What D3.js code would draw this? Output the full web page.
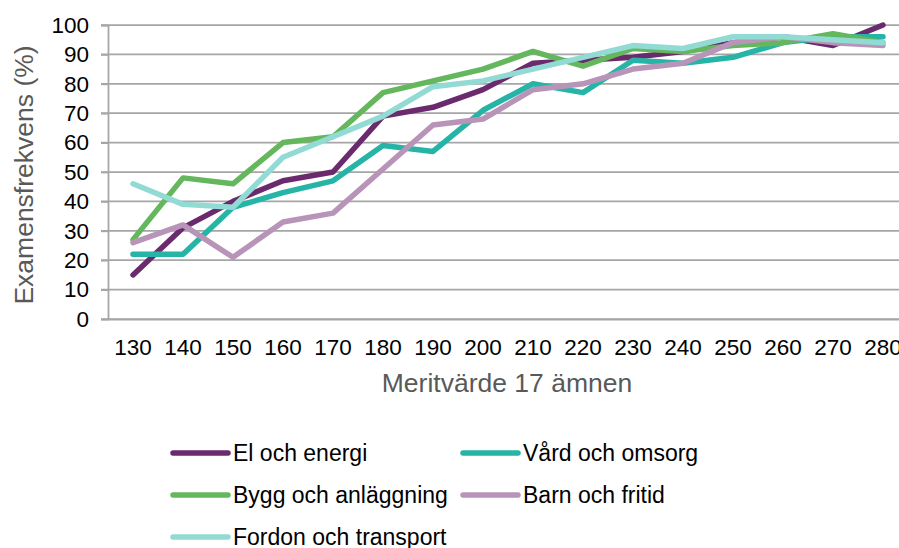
<!DOCTYPE html>
<html>
<head>
<meta charset="utf-8">
<script src="https://cdn.jsdelivr.net/npm/d3@7/dist/d3.min.js"></script>
<style>
  body { margin: 0; background: #fff; }
  svg { display: block; font-family: "Liberation Sans", Arial, sans-serif; }
</style>
</head>
<body>
<div id="chart"></div>
<script>
const categories = [130, 140, 150, 160, 170, 180, 190, 200, 210, 220, 230, 240, 250, 260, 270, 280];
const elOchEnergi   = [15, 31, 40, 47, 50, 69, 72, 78, 87, 88, 89, 91, 94, 96, 93, 100];
const vardOchOmsorg = [22, 22, 38, 43, 47, 59, 57, 71, 80, 77, 88, 87, 89, 94, 96, 96];
const byggOchAnl    = [27, 48, 46, 60, 62, 77, 81, 85, 91, 86, 92, 91, 93, 94, 97, 94];
const barnOchFritid = [26, 32, 21, 33, 36, 51, 66, 68, 78, 80, 85, 87, 94, 96, 94, 93];
const fordonOchTr   = [46, 39, 38, 55, 62, 69, 79, 81, 85, 89, 93, 92, 96, 96, 95, 94];
const seriesNames = ['El och energi', 'Vård och omsorg', 'Bygg och anläggning', 'Barn och fritid', 'Fordon och transport'];
const seriesColors = ['#6b2a6d', '#25b4a6', '#65b75e', '#b894b9', '#92dbd4'];
const yTicks = [0, 10, 20, 30, 40, 50, 60, 70, 80, 90, 100];

const series = [elOchEnergi, vardOchOmsorg, byggOchAnl, barnOchFritid, fordonOchTr];

const width = 899, height = 548;
const svg = d3.select('#chart')
  .append('svg')
  .attr('width', width)
  .attr('height', height);

const x = d3.scaleBand().domain(categories).range([108, 908]).padding(0);
const y = d3.scaleLinear().domain([0, 100]).range([319, 25]);
const cx = d => x(d) + x.bandwidth() / 2;

// gridlines
svg.append('g')
  .selectAll('line')
  .data(yTicks)
  .enter()
  .append('line')
  .attr('x1', 101)
  .attr('x2', 908)
  .attr('y1', d => y(d))
  .attr('y2', d => y(d))
  .style('stroke', '#a6a6a6')
  .style('stroke-width', 1.75);

// y axis
const yAxis = svg.append('g')
  .attr('transform', 'translate(108,0)')
  .call(d3.axisLeft(y).tickValues(yTicks).tickSize(7).tickPadding(12));
yAxis.select('.domain').style('stroke', '#a6a6a6').style('stroke-width', 1.75);
yAxis.selectAll('.tick line').style('stroke', '#a6a6a6').style('stroke-width', 1.75);
yAxis.selectAll('text')
  .style('font-size', '22.5px')
  .style('fill', '#000')
  .style('font-family', '"Liberation Sans", Arial, sans-serif');

// x axis
const xAxis = svg.append('g')
  .attr('transform', 'translate(0,319)')
  .call(d3.axisBottom(x).tickSize(0).tickPadding(20));
xAxis.select('.domain').style('stroke', '#a6a6a6').style('stroke-width', 1.75);
xAxis.selectAll('text')
  .style('font-size', '22.5px')
  .style('fill', '#000')
  .style('font-family', '"Liberation Sans", Arial, sans-serif');

// axis titles
svg.append('text')
  .attr('x', 507)
  .attr('y', 392)
  .attr('text-anchor', 'middle')
  .style('font-size', '26.5px')
  .style('fill', '#595959')
  .text('Meritvärde 17 ämnen');

svg.append('text')
  .attr('transform', 'translate(33,175) rotate(-90)')
  .attr('text-anchor', 'middle')
  .style('font-size', '26.5px')
  .style('fill', '#595959')
  .text('Examensfrekvens (%)');

// lines
const line = d3.line()
  .x((d, i) => cx(categories[i]))
  .y(d => y(d));

svg.append('g')
  .selectAll('path')
  .data(series)
  .enter()
  .append('path')
  .attr('d', line)
  .style('fill', 'none')
  .style('stroke', (d, i) => seriesColors[i])
  .style('stroke-width', 5.5)
  .style('stroke-linejoin', 'round')
  .style('stroke-linecap', 'round');

// legend
const legendPos = [[173, 453], [463, 453], [173, 495], [463, 495], [173, 537]];
const legend = svg.append('g')
  .selectAll('g')
  .data(seriesNames)
  .enter()
  .append('g')
  .attr('transform', (d, i) => `translate(${legendPos[i][0]}, ${legendPos[i][1]})`);

legend.append('line')
  .attr('x1', 0)
  .attr('x2', 55)
  .style('stroke', (d, i) => seriesColors[i])
  .style('stroke-width', 5.5)
  .style('stroke-linecap', 'round');

legend.append('text')
  .attr('x', 60)
  .attr('dy', '0.35em')
  .style('font-size', '23px')
  .style('fill', '#000')
  .text(d => d);
</script>
</body>
</html>
